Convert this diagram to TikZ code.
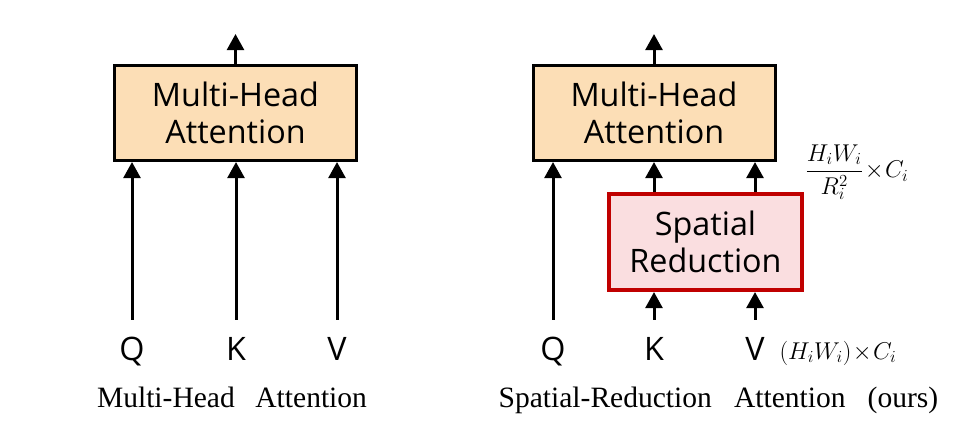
\documentclass[tikz,border=0pt]{standalone}
\usepackage{fontspec}
\setmainfont{Open Sans}
\newfontfamily\capfont{Liberation Serif}
\usetikzlibrary{arrows.meta}

\definecolor{mhafill}{RGB}{252,222,182}
\definecolor{srfill}{RGB}{250,222,224}
\definecolor{srdraw}{RGB}{192,0,0}

\begin{document}
\begin{tikzpicture}
    \tikzstyle{arrow} = [-{Triangle[length=0.4cm,width=0.42cm]}, line width=0.075cm]
    \tikzstyle{rec} = [rectangle, draw=black, align=center, line width=0.075cm,
        minimum width=6.05cm, minimum height=2.375cm, fill=mhafill,
        font=\fontsize{23}{26}\selectfont]
    \tikzstyle{srrec} = [rectangle, draw=srdraw, align=center, line width=0.1cm,
        minimum width=4.825cm, minimum height=2.4cm, fill=srfill,
        font=\fontsize{23}{26}\selectfont]
    \tikzstyle{qkv} = [font=\fontsize{23}{28}\selectfont, text height=0.6cm,
        text depth=0.1cm, inner sep=0.4cm]
    \tikzstyle{caption} = [anchor=base, font=\capfont\fontsize{21}{25}\selectfont]
    \tikzstyle{dims} = [inner sep=0pt, font=\fontsize{17}{20}\selectfont]

    \useasboundingbox (0,0) rectangle (24.05,-10.725);

    \node(mhaleft) [rec] at (5.8875,-2.825) {Multi-Head\\Attention};
    \node(mharight) [rec] at (16.35,-2.825) {Multi-Head\\Attention};
    \node(sr) [srrec] at (17.6375,-6.05) {Spatial\\Reduction};

    \node(qleft) [qkv] at (3.3,-8.75) {Q};
    \node(kleft) [qkv] at (5.9,-8.75) {K};
    \node(vleft) [qkv] at (8.425,-8.75) {V};

    \node(qright) [qkv] at (13.825,-8.75) {Q};
    \node(kright) [qkv] at (16.35,-8.75) {K};
    \node(vright) [qkv] at (18.875,-8.75) {V};

    \node(dimin) [dims] at (20.95,-8.825) {$(H_iW_i)\!\times\! C_i$};
    \node(dimout) [dims] at (21.42,-4.3) {$\displaystyle\frac{H_iW_i}{R_i^2}\!\times\! C_i$};

    \node(capleft) [caption] at (5.8,-10.175) {Multi-Head\hspace{0.7em}Attention};
    \node(capright) [caption] at (17.96,-10.175)
        {Spatial-Reduction\hspace{0.75em}Attention\hspace{0.75em}(ours)};

    \coordinate(outleft) at ([yshift=0.75cm]mhaleft.north);
    \coordinate(outright) at ([yshift=0.75cm]mharight.north);

    \draw[arrow] (mhaleft.north) -- (outleft);
    \draw[arrow] (mharight.north) -- (outright);

    \draw[arrow] (qleft.north) -- (qleft.north |- mhaleft.south);
    \draw[arrow] (kleft.north) -- (kleft.north |- mhaleft.south);
    \draw[arrow] (vleft.north) -- (vleft.north |- mhaleft.south);

    \draw[arrow] (qright.north) -- (qright.north |- mharight.south);
    \draw[arrow] (kright.north) -- (kright.north |- sr.south);
    \draw[arrow] (vright.north) -- (vright.north |- sr.south);
    \draw[arrow] (sr.north -| kright) -- (mharight.south -| kright);
    \draw[arrow] (sr.north -| vright) -- (mharight.south -| vright);
\end{tikzpicture}
\end{document}
